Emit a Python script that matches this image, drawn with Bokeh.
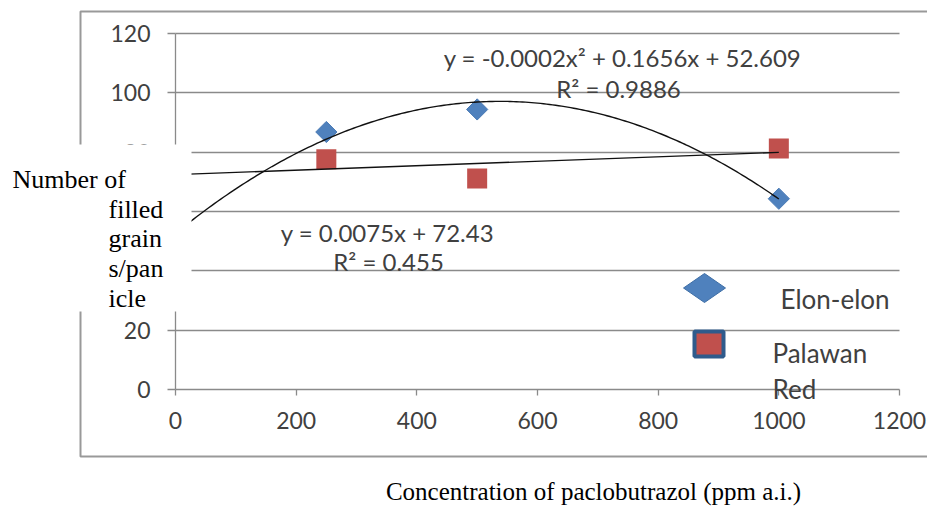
import numpy as np
from bokeh.plotting import figure
from bokeh.models import Range1d, Label, BoxAnnotation, PolyAnnotation, FixedTicker, LinearAxis, Grid
from bokeh.embed import file_html
from bokeh.resources import INLINE

# ---- data ----
concentration = [250, 500, 1000]
elon_elon = [86.8, 94.4, 64.3]
palawan_red = [77.6, 71.1, 81.2]

# trendline coefficients (curve drawn as in the picture; labels as printed)
quad_coef = [-0.000154, 0.1656, 52.609]
lin_coef = [0.0075, 72.43]
trend_x_range = [0, 1000]

x_ticks = [0, 200, 400, 600, 800, 1000, 1200]
y_ticks = [0, 20, 40, 60, 80, 100, 120]
x_lim = (0, 1200)
y_lim = (0, 120)

quad_label = "y = -0.0002x² + 0.1656x + 52.609"
quad_r2 = "R² = 0.9886"
lin_label = "y = 0.0075x + 72.43"
lin_r2 = "R² = 0.455"
series_names = ["Elon-elon", "Palawan", "Red"]
y_title_lines = ["Number of", "filled", "grain", "s/pan", "icle"]
x_title = "Concentration of paclobutrazol (ppm a.i.)"

BLUE = "#4f81bd"
RED = "#c0504d"
GRID = "#8a8a8a"
TXT = "#404040"
SANS = "Lato"
SERIF = "Liberation Serif"

# ---- layout (canvas pixels) ----
W, H = 927, 514
PX0, PX1 = 175, 899      # canvas x of x_lim
PY0, PY1 = 389, 33       # canvas y of y_lim
sx = (x_lim[1] - x_lim[0]) / (PX1 - PX0)
sy = (y_lim[1] - y_lim[0]) / (PY0 - PY1)
xr = Range1d(x_lim[0] - PX0 * sx, x_lim[0] + (W - PX0) * sx)
yr = Range1d(y_lim[0] - (H - PY0) * sy, y_lim[0] + PY0 * sy)

p = figure(width=W, height=H, output_backend="svg", toolbar_location=None,
           x_range=xr, y_range=yr, x_axis_location=None, y_axis_location=None,
           min_border=0)
p.outline_line_color = None
p.background_fill_color = "white"
p.border_fill_color = "white"
p.grid.visible = False

xaxis = LinearAxis(fixed_location=0, bounds=x_lim, ticker=FixedTicker(ticks=x_ticks))
yaxis = LinearAxis(fixed_location=0, bounds=y_lim, ticker=FixedTicker(ticks=y_ticks))
for ax in (xaxis, yaxis):
    ax.axis_line_color = GRID
    ax.axis_line_width = 1.3
    ax.major_tick_line_color = GRID
    ax.major_tick_line_width = 1.3
    ax.minor_tick_line_color = None
    ax.major_tick_in = 0
    ax.major_label_text_font = SANS
    ax.major_label_text_font_size = "23px"
    ax.major_label_text_color = TXT
xaxis.major_tick_out = 6
xaxis.major_label_standoff = 16
yaxis.major_tick_out = 8
yaxis.major_label_standoff = 17
p.add_layout(xaxis, "below")
p.add_layout(yaxis, "left")

p.add_layout(Grid(dimension=1, ticker=FixedTicker(ticks=y_ticks[1:]), cross_bounds=x_lim,
                  grid_line_color=GRID, grid_line_width=1.3))

# markers
p.scatter(concentration, elon_elon, marker="square", angle=np.pi / 4, size=15,
          fill_color=BLUE, line_color="#4a7ab5", line_width=1)
p.scatter(concentration, palawan_red, marker="square", size=20,
          fill_color=RED, line_color=None)

# trendlines
tx = np.linspace(trend_x_range[0], trend_x_range[1], 201)
p.line(tx, np.polyval(quad_coef, tx), line_color="#111111", line_width=1.4)
p.line(trend_x_range, np.polyval(lin_coef, trend_x_range), line_color="#111111", line_width=1.4)

CU = dict(x_units="canvas", y_units="canvas")

def lab(x, y, text, font=SANS, size="23px", align="center", baseline="middle", color=TXT, level="annotation"):
    p.add_layout(Label(x=x, y=y, text=text, text_font=font, text_font_size=size,
                       text_align=align, text_baseline=baseline, text_color=color,
                       level=level, **CU))

def box(l, r, t, b, **kw):
    p.add_layout(BoxAnnotation(left=l, right=r, top=t, bottom=b,
                               left_units="canvas", right_units="canvas",
                               top_units="canvas", bottom_units="canvas", **kw))

# trendline labels
lab(622, 57, quad_label, size="24px")
lab(618, 88, quad_r2, size="24px")
lab(387, 232, lin_label, size="24px")
lab(388, 261, lin_r2, size="24px")

# chart box border (top, left, bottom; right side beyond the canvas)
box(80, 960, 11, 456, fill_color=None, line_color="#999999", line_alpha=1, line_width=2)

# legend swatches + texts
p.add_layout(PolyAnnotation(xs=[683, 704, 725, 704], ys=[287.5, 273, 287.5, 302],
                            xs_units="canvas", ys_units="canvas",
                            fill_color=BLUE, fill_alpha=1, line_color="#3e6ea6",
                            line_alpha=1, line_width=1))
box(694, 723, 331, 356, fill_color=RED, fill_alpha=1, line_color="#2f5b8c",
    line_alpha=1, line_width=4)
lab(780, 298, series_names[0], size="26px", align="left")
lab(772, 352, series_names[1], size="26px", align="left")
lab(772, 388, series_names[2], size="26px", align="left")

# white box behind the y-axis title (covers part of the chart, as in the picture)
box(-20, 191, 144, 311, fill_color="white", fill_alpha=1, line_color=None, level="overlay")

# y title (Times-like, wrapped)
ybase = [179, 209, 238, 268, 298]
lab(12, ybase[0], y_title_lines[0], font=SERIF, size="26px", align="left",
    baseline="alphabetic", color="black", level="overlay")
for t, yb in zip(y_title_lines[1:], ybase[1:]):
    lab(108, yb, t, font=SERIF, size="26px", align="left", baseline="alphabetic",
        color="black", level="overlay")

# x title
lab(593, 491, x_title, font=SERIF, size="25px", baseline="alphabetic", color="black")

open("out.html", "w").write(file_html(p, INLINE))
